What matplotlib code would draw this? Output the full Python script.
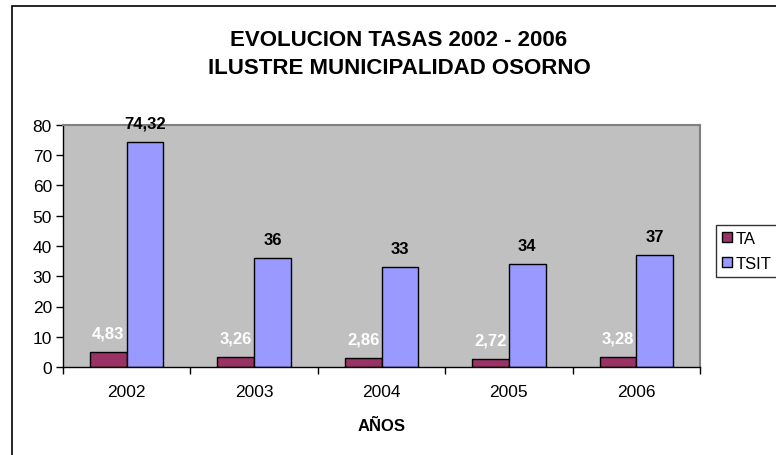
import matplotlib.pyplot as plt
import numpy as np
from matplotlib.patches import Rectangle

plt.rcParams["font.family"] = ["Liberation Sans", "DejaVu Sans"]

years = ["2002", "2003", "2004", "2005", "2006"]
ta = [4.83, 3.26, 2.86, 2.72, 3.28]
tsit = [74.32, 36, 33, 34, 37]
ta_labels = ["4,83", "3,26", "2,86", "2,72", "3,28"]
tsit_labels = ["74,32", "36", "33", "34", "37"]

W, H = 776, 456
fig = plt.figure(figsize=(W / 100, H / 100), dpi=100)

# outer chart frame (right and bottom edges fall off the picture)
fig.patches.append(Rectangle((12 / W, -0.1), 1.2, 1.1 - 7 / H, transform=fig.transFigure,
                             fill=False, edgecolor="black", linewidth=1.2))

ax = fig.add_axes([63 / W, 1 - 368 / H, 637 / W, 242 / H])
ax.set_facecolor("#C0C0C0")

x = np.arange(len(years))
bw = 0.288
b1 = ax.bar(x - bw / 2, ta, bw, color="#993366", edgecolor="black", linewidth=1, label="TA")
b2 = ax.bar(x + bw / 2, tsit, bw, color="#9999FF", edgecolor="black", linewidth=1, label="TSIT")

for rect, lab in zip(b1, ta_labels):
    ax.annotate(lab, (rect.get_x() + rect.get_width() / 2, rect.get_height()),
                xytext=(0, 19), textcoords="offset pixels", ha="center", va="center",
                color="white", fontsize=12, fontweight="bold")
for rect, lab in zip(b2, tsit_labels):
    ax.annotate(lab, (rect.get_x() + rect.get_width() / 2, rect.get_height()),
                xytext=(0, 19), textcoords="offset pixels", ha="center", va="center",
                color="black", fontsize=12, fontweight="bold")

ax.set_xlim(-0.5, len(years) - 0.5)
ax.set_ylim(0, 80)
ax.set_yticks(range(0, 81, 10))
ax.set_xticks(np.arange(len(years) + 1) - 0.5, minor=False)
ax.set_xticklabels([])
ax.set_xticks(x, minor=True)
ax.set_xticklabels(years, minor=True)
ax.tick_params(axis="x", which="minor", length=0, pad=12, labelsize=12.5)
ax.tick_params(axis="x", which="major", length=5, direction="out", width=1)
ax.tick_params(axis="y", length=5, direction="out", width=1, labelsize=12.5, pad=3)

for s in ["top", "right"]:
    ax.spines[s].set_color("#808080")
    ax.spines[s].set_linewidth(1.5)
for s in ["left", "bottom"]:
    ax.spines[s].set_color("black")
    ax.spines[s].set_linewidth(1)

ax.set_xlabel("AÑOS", fontsize=12, fontweight="bold", labelpad=14)

fig.text(399 / W, 1 - 40 / H, "EVOLUCION TASAS 2002 - 2006", ha="center", va="center",
         fontsize=16, fontweight="bold")
fig.text(399 / W, 1 - 68 / H, "ILUSTRE MUNICIPALIDAD OSORNO", ha="center", va="center",
         fontsize=16, fontweight="bold")

leg = fig.legend(handles=[b1, b2], labels=["TA", "TSIT"], loc="upper left",
                 bbox_to_anchor=(716 / W, 1 - 226 / H), frameon=True, fancybox=False,
                 edgecolor="black", fontsize=12, handlelength=0.6, handleheight=0.6,
                 handletextpad=0.2, borderpad=0.35, labelspacing=0.6, borderaxespad=0)
leg.get_frame().set_linewidth(1)

fig.savefig("out.png", dpi=100)
